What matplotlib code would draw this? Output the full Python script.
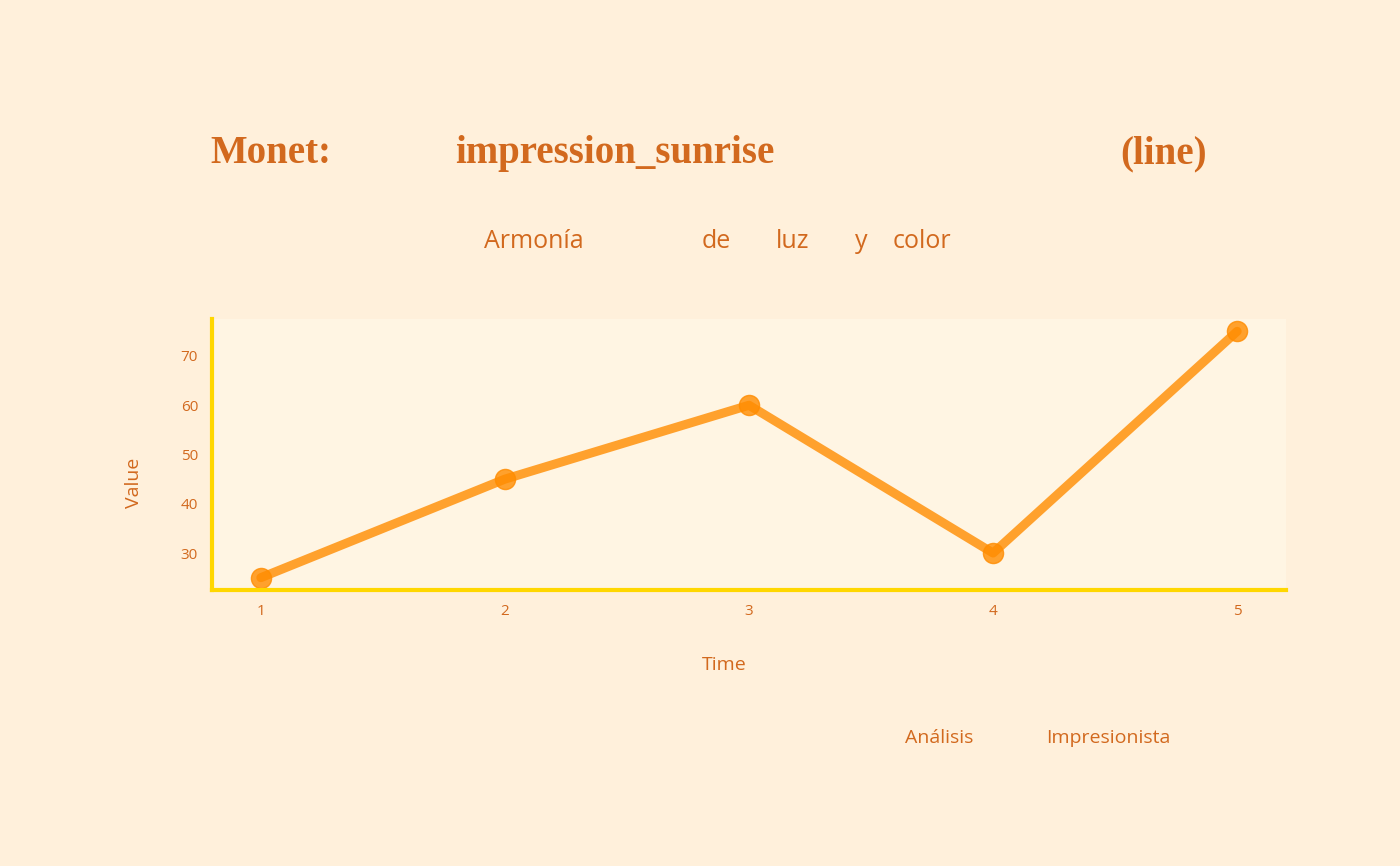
import matplotlib
matplotlib.use("Agg")
import matplotlib.pyplot as plt

# Data
time_points = [1, 2, 3, 4, 5]
values = [25, 45, 60, 30, 75]
x_ticks = [1, 2, 3, 4, 5]
y_ticks = [30, 40, 50, 60, 70]

title_words = ["Monet:", "impression_sunrise", "(line)"]
subtitle_words = ["Armonía", "de", "luz", "y", "color"]
caption_words = ["Análisis", "Impresionista"]

TEXT = "#D2691E"
BG = "#FFF0DB"
AX_BG = "#FFF5E3"
SPINE = "#FFD700"
LINE = "#FF8C00"
SANS = ["Open Sans", "DejaVu Sans"]
SERIF = ["Liberation Serif", "DejaVu Serif"]

W, H = 1400, 866
fig = plt.figure(figsize=(14, 8.66), dpi=100, facecolor=BG)

def px(x, y):
    return x / W, 1 - y / H

ax = fig.add_axes([212 / W, (H - 590) / H, (1286 - 212) / W, (590 - 319) / H])
ax.set_facecolor(AX_BG)
ax.plot(time_points, values, color=LINE, alpha=0.8, linewidth=6.5,
        marker="o", markersize=14.5, solid_capstyle="round")
ax.set_xlim(0.8, 5.2)
ax.set_ylim(22.5, 77.5)
ax.set_xticks(x_ticks)
ax.set_yticks(y_ticks)
ax.set_xticklabels([str(t) for t in x_ticks])
ax.set_yticklabels([str(t) for t in y_ticks])
for s in ["top", "right"]:
    ax.spines[s].set_visible(False)
for s in ["left", "bottom"]:
    ax.spines[s].set_color(SPINE)
    ax.spines[s].set_linewidth(3)
ax.tick_params(axis="both", length=0, colors=TEXT, labelsize=11)
ax.tick_params(axis="x", pad=10)
ax.tick_params(axis="y", pad=10)
for lab in ax.get_xticklabels() + ax.get_yticklabels():
    lab.set_family(SANS)

fig.text(*px(724, 670), "Time", ha="center", va="baseline", color=TEXT, fontsize=14, family=SANS)
fig.text(*px(134, 483), "Value", ha="center", va="center", rotation=90, color=TEXT, fontsize=14, family=SANS)

title_x = [210, 455, 1120]
for w, x in zip(title_words, title_x):
    fig.text(*px(x, 163), w, ha="left", va="baseline", color=TEXT, fontsize=28,
             fontweight="bold", family=SERIF)

sub_x = [484, 702, 776, 855, 893]
for w, x in zip(subtitle_words, sub_x):
    fig.text(*px(x, 248), w, ha="left", va="baseline", color=TEXT, fontsize=18, family=SANS)

cap_x = [905, 1046]
for w, x in zip(caption_words, cap_x):
    fig.text(*px(x, 743), w, ha="left", va="baseline", color=TEXT, fontsize=14, family=SANS)

fig.savefig("out.png", dpi=100, facecolor=BG)
